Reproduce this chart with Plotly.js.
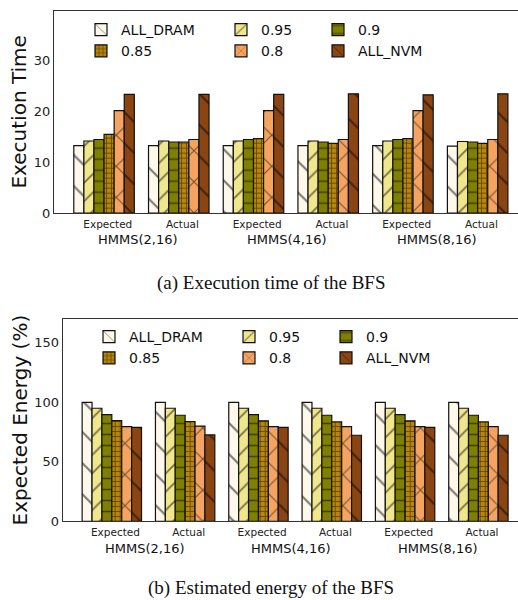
<!DOCTYPE html>
<html>
<head>
<meta charset="utf-8">
<script src="https://cdn.plot.ly/plotly-3.0.1.min.js"></script>
<style>html,body{margin:0;padding:0;background:#fff;}#chart{width:518px;height:600px;}</style>
</head>
<body>
<div id="chart"></div>
<script>
// ---- data ----
const configs = ['HMMS(2,16)', 'HMMS(4,16)', 'HMMS(8,16)'];
const modes = ['Expected', 'Actual'];
const series = ['ALL_DRAM', '0.95', '0.9', '0.85', '0.8', 'ALL_NVM'];
// order of values: Expected(2,16), Actual(2,16), Expected(4,16), Actual(4,16), Expected(8,16), Actual(8,16)
const timeAllDram = [13.3, 13.3, 13.3, 13.3, 13.3, 13.2];
const time095     = [14.2, 14.2, 14.2, 14.2, 14.2, 14.1];
const time09      = [14.5, 14.0, 14.5, 14.0, 14.5, 14.0];
const time085     = [15.5, 14.0, 14.65, 13.75, 14.65, 13.75];
const time08      = [20.2, 14.5, 20.2, 14.5, 20.2, 14.5];
const timeAllNvm  = [23.4, 23.4, 23.4, 23.5, 23.3, 23.5];
const energyAllDram = [100, 100, 100, 100, 100, 100];
const energy095     = [95, 95, 95, 95, 95, 95];
const energy09      = [89.7, 89.1, 89.7, 89.1, 89.7, 89.1];
const energy085     = [84.6, 83.8, 84.4, 83.5, 84.4, 83.5];
const energy08      = [79.6, 80, 79.6, 79.6, 79.6, 79.6];
const energyAllNvm  = [79, 72.6, 79, 72.3, 79, 72.3];

const timeData = [timeAllDram, time095, time09, time085, time08, timeAllNvm];
const energyData = [energyAllDram, energy095, energy09, energy085, energy08, energyAllNvm];

// ---- styles ----
const colors = ['#FDF8EA', '#F0E68C', '#808000', '#B8860B', '#F4A460', '#8B4513'];
const shapes = ['\\', '/', '-', '+', 'x', '\\'];
const psizes = [22, 13, 11, 5, 22, 22];
const psolid = [0.1, 0.14, 0.14, 0.3, 0.1, 0.1];

const W = 518, H = 600;
const px = v => v / W;
const py = v => 1 - v / H;

const xIdx = [];
const tickText = [];
configs.forEach((c, ci) => modes.forEach((m, mi) => { xIdx.push(ci * 2 + mi); tickText.push(m); }));

const traces = [];
function addSet(data, xa, ya, legBase) {
  series.forEach((name, i) => {
    const legNum = legBase + (i % 3);
    traces.push({
      type: 'bar', name: name, x: xIdx, y: data[i], xaxis: xa, yaxis: ya,
      legend: legNum === 1 ? 'legend' : 'legend' + legNum,
      marker: {
        color: colors[i],
        line: {color: '#111', width: 1.2},
        pattern: {shape: shapes[i], size: psizes[i], solidity: psolid[i], fgcolor: '#000', bgcolor: colors[i], fillmode: 'overlay'}
      },
      hoverinfo: 'skip'
    });
  });
}
addSet(timeData, 'x', 'y', 1);
addSet(energyData, 'x2', 'y2', 4);

const font = 'DejaVu Sans, sans-serif';
const xRange = [-0.67, 5.54];
const tickVals = xIdx.map(v => v + 0.05);

function xAxis(domain, anchor) {
  return {
    domain: domain, anchor: anchor, range: xRange, tickvals: tickVals, ticktext: tickText,
    tickfont: {family: font, size: 10.5, color: '#222'}, showgrid: false, zeroline: false,
    showline: true, mirror: true, linecolor: '#333', linewidth: 1, ticks: '', ticklabelstandoff: 1
  };
}
function yAxis(domain, anchor, range, dtick, title) {
  return {
    domain: domain, anchor: anchor, range: range, dtick: dtick,
    tickfont: {family: font, size: 13, color: '#222'}, showgrid: false, zeroline: false,
    showline: true, mirror: true, linecolor: '#333', linewidth: 1, ticks: '',
    title: {text: title, font: {family: font, size: 20, color: '#111'}, standoff: 1}
  };
}

function legend(xpx, ypx) {
  return {x: px(xpx), y: py(ypx), xanchor: 'left', yanchor: 'top', orientation: 'v',
    bgcolor: 'rgba(0,0,0,0)', borderwidth: 0, font: {family: font, size: 14, color: '#111'},
    tracegroupgap: 0, itemclick: false};
}

const annotations = [];
configs.forEach((c, ci) => {
  annotations.push({xref: 'x', yref: 'paper', x: ci * 2 + 0.45, y: py(239), text: c, showarrow: false,
    font: {family: font, size: 13, color: '#111'}, xanchor: 'center', yanchor: 'middle'});
  annotations.push({xref: 'x2', yref: 'paper', x: ci * 2 + 0.45, y: py(548), text: c, showarrow: false,
    font: {family: font, size: 13, color: '#111'}, xanchor: 'center', yanchor: 'middle'});
});
annotations.push({xref: 'paper', yref: 'paper', x: px(271), y: py(283), text: '(a) Execution time of the BFS',
  showarrow: false, font: {family: 'Liberation Serif, Times New Roman, serif', size: 19, color: '#111'}, xanchor: 'center', yanchor: 'middle'});
annotations.push({xref: 'paper', yref: 'paper', x: px(271), y: py(588), text: '(b) Estimated energy of the BFS',
  showarrow: false, font: {family: 'Liberation Serif, Times New Roman, serif', size: 19, color: '#111'}, xanchor: 'center', yanchor: 'middle'});

const layout = {
  width: W, height: H, margin: {l: 0, r: 0, t: 0, b: 0},
  paper_bgcolor: '#fff', plot_bgcolor: '#fff',
  barmode: 'group', bargap: 0.19, bargroupgap: 0,
  showlegend: true,
  xaxis: xAxis([px(54), 1], 'y'),
  yaxis: yAxis([py(213), py(10.7)], 'x', [0, 39.9], 10, 'Execution Time'),
  xaxis2: xAxis([px(62.7), 1], 'y2'),
  yaxis2: yAxis([py(521.3), py(319)], 'x2', [0, 170], 50, 'Expected Energy (%)'),
  legend: legend(81, 14),
  legend2: legend(221, 14),
  legend3: legend(318, 14),
  legend4: legend(89, 321),
  legend5: legend(229, 321),
  legend6: legend(326, 321),
  annotations: annotations
};

Plotly.newPlot('chart', traces, layout, {displayModeBar: false, staticPlot: true});
</script>
</body>
</html>
